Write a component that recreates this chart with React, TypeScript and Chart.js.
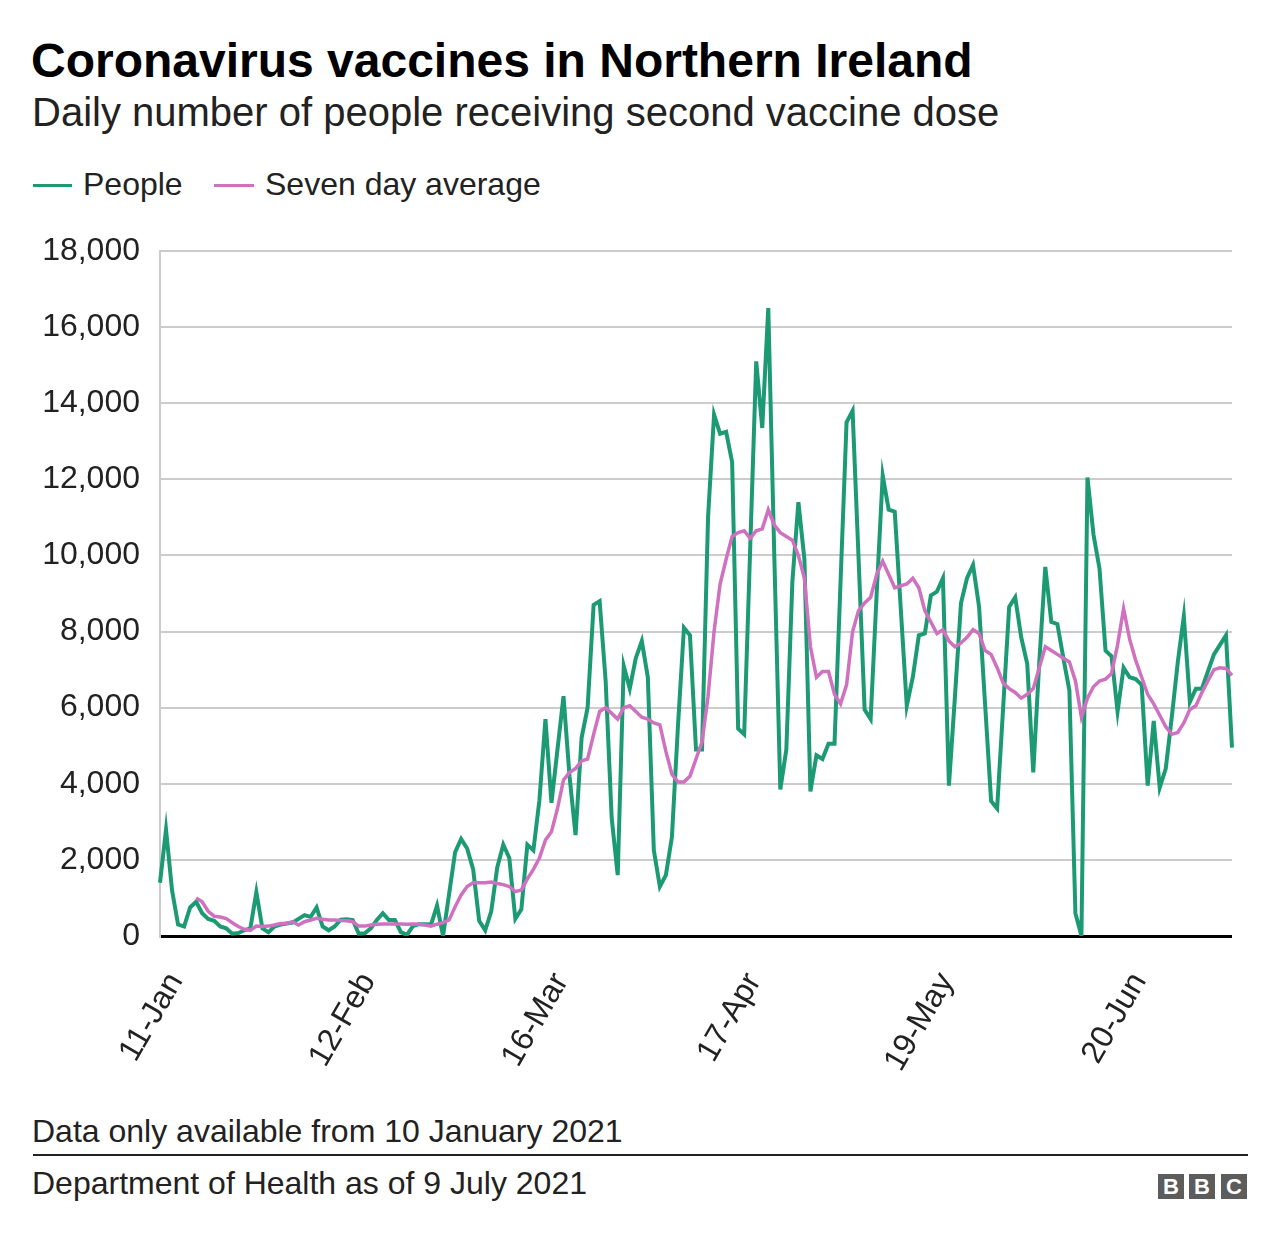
import React, { useEffect, useRef } from 'react';
import { Chart, registerables } from 'chart.js';

Chart.register(...registerables);

const FONT = '"Liberation Sans", Arial, Helvetica, sans-serif';
const GREEN = '#1b9a73';
const PINK = '#cf70c1';
const TEXT = '#222222';

// Daily categories: 10 Jan 2021 ... 7 Jul 2021
const START_DATE = { year: 2021, month: 0, day: 10 };
const DAY_COUNT = 179;
const MONTHS = ['Jan', 'Feb', 'Mar', 'Apr', 'May', 'Jun', 'Jul', 'Aug', 'Sep', 'Oct', 'Nov', 'Dec'];
const DATES: string[] = [];
for (let i = 0; i < DAY_COUNT; i++) {
  const d = new Date(Date.UTC(START_DATE.year, START_DATE.month, START_DATE.day + i));
  DATES.push(`${d.getUTCDate()}-${MONTHS[d.getUTCMonth()]}`);
}

const X_TICK_LABELS = ['11-Jan', '12-Feb', '16-Mar', '17-Apr', '19-May', '20-Jun'];
const Y_TICKS = [0, 2000, 4000, 6000, 8000, 10000, 12000, 14000, 16000, 18000];

// Daily number of people receiving second dose
const PEOPLE = [
  1400, 2800, 1200, 300, 250, 750, 900, 600, 450, 400,
  250, 200, 60, 80, 150, 200, 1150, 200, 100, 250,
  300, 330, 350, 450, 550, 500, 750, 250, 150, 250,
  430, 440, 420, 60, 70, 200, 420, 600, 420, 420,
  100, 30, 260, 310, 310, 300, 800, 0, 1100, 2200,
  2550, 2300, 1750, 400, 150, 650, 1800, 2400, 2050, 450,
  700, 2400, 2250, 3570, 5700, 3500, 4900, 6300, 4200, 2650,
  5200, 6000, 8700, 8800, 6700, 3100, 1600, 7100, 6500, 7300,
  7750, 6800, 2250, 1300, 1600, 2600, 5500, 8100, 7900, 4900,
  4900, 11000, 13700, 13200, 13250, 12450, 5450, 5300, 10200, 15100,
  13350, 16500, 10000, 3850, 4900, 9300, 11400, 9900, 3800, 4750,
  4650, 5050, 5050, 9300, 13500, 13800, 9900, 5950, 5700, 9000,
  12100, 11200, 11150, 8600, 6050, 6800, 7900, 7950, 8950, 9050,
  9400, 3950, 6300, 8750, 9400, 9750, 8650, 6100, 3550, 3350,
  6000, 8650, 8900, 7850, 7150, 4300, 7200, 9700, 8250, 8200,
  7300, 6450, 600, 0, 12050, 10550, 9650, 7500, 7350, 5900,
  7050, 6800, 6750, 6600, 3950, 5650, 3900, 4400, 5750, 7200,
  8400, 6150, 6500, 6500, 6950, 7400, 7650, 7900, 4950,
];

// Seven day average (starts on the 7th day)
const AVERAGE = [
  null, null, null, null, null, null, 1000, 900, 650, 520,
  500, 460, 350, 250, 175, 150, 260, 250, 260, 290,
  330, 330, 375, 290, 375, 420, 465, 440, 420, 420,
  410, 400, 375, 260, 260, 290, 310, 315, 315, 315,
  315, 310, 315, 310, 290, 260, 310, 350, 420, 770,
  1080, 1300, 1400, 1400, 1400, 1420, 1380, 1350, 1300, 1165,
  1210, 1500, 1750, 2050, 2520, 2740, 3350, 4100, 4300, 4400,
  4600, 4650, 5300, 5900, 6000, 5850, 5700, 6000, 6050, 5900,
  5750, 5700, 5600, 5550, 4850, 4250, 4050, 4050, 4200, 4650,
  5100, 6300, 8000, 9250, 9900, 10500, 10600, 10650, 10450, 10650,
  10700, 11200, 10800, 10600, 10500, 10400, 10000, 9400, 7600, 6800,
  6950, 6950, 6350, 6100, 6600, 8000, 8550, 8750, 8900, 9500,
  9850, 9500, 9150, 9200, 9250, 9400, 9150, 8550, 8250, 7950,
  8050, 7750, 7600, 7700, 7850, 8050, 7950, 7500, 7400, 7050,
  6650, 6500, 6400, 6250, 6350, 6500, 7050, 7600, 7500, 7400,
  7300, 7200, 6700, 5750, 6250, 6550, 6700, 6750, 6900, 7650,
  8600, 7800, 7250, 6800, 6350, 6100, 5800, 5500, 5300, 5350,
  5600, 5950, 6050, 6400, 6700, 7000, 7050, 7030, 6850,
];

// Canvas placement so the plot area spans x 160..1232, y 251..936
const Y_LABEL_LH = 40; // y tick label line height
const Y_TICK_PAD = 20;
const CANVAS_TOP = 251 - (Y_LABEL_LH / 2 + Y_TICK_PAD);
const CANVAS_H = 870;
const CANVAS_W = 1280;
const X_LABEL_LH = 52;
const X_TICK_PAD = 27;
// rotated date labels sit slightly to the right of their day (in days)
const LABEL_SHIFT = 1.6;
const X_TICK_INDEX = X_TICK_LABELS.map((l) => DATES.indexOf(l));

export default function App() {
  const ref = useRef<HTMLCanvasElement>(null);

  useEffect(() => {
    if (!ref.current) return;
    const chart = new Chart(ref.current, {
      type: 'line',
      data: {
        labels: DATES,
        datasets: [
          {
            label: 'People',
            data: PEOPLE,
            borderColor: GREEN,
            backgroundColor: GREEN,
            borderWidth: 4,
            pointRadius: 0,
            tension: 0,
            order: 1,
          },
          {
            label: 'Seven day average',
            data: AVERAGE as any,
            borderColor: PINK,
            backgroundColor: PINK,
            borderWidth: 3.5,
            pointRadius: 0,
            tension: 0,
            order: 0,
          },
        ],
      },
      options: {
        animation: false,
        responsive: false,
        maintainAspectRatio: false,
        layout: { padding: { top: 0, right: 48, left: 0, bottom: 0 } },
        plugins: {
          legend: { display: false },
          tooltip: { enabled: false },
        },
        scales: {
          x: {
            type: 'category',
            offset: false,
            display: false,
          },
          xl: {
            type: 'linear',
            position: 'bottom',
            min: -LABEL_SHIFT,
            max: DAY_COUNT - 1 - LABEL_SHIFT,
            grid: { display: false, drawTicks: false },
            border: { display: false },
            afterBuildTicks: (axis: any) => {
              axis.ticks = X_TICK_INDEX.map((v) => ({ value: v }));
            },
            ticks: {
              autoSkip: false,
              minRotation: 60,
              maxRotation: 60,
              padding: X_TICK_PAD,
              color: TEXT,
              font: { family: FONT, size: 32, lineHeight: X_LABEL_LH / 32 },
              callback: (value: any) => DATES[Math.round(Number(value))] ?? '',
            },
            afterFit: (s: any) => {
              s.height = CANVAS_H - (936 - CANVAS_TOP);
            },
          },
          y: {
            min: Y_TICKS[0],
            max: Y_TICKS[Y_TICKS.length - 1],
            ticks: {
              stepSize: 2000,
              padding: Y_TICK_PAD,
              color: TEXT,
              font: { family: FONT, size: 32, lineHeight: Y_LABEL_LH / 32 },
              callback: (v: any) => Number(v).toLocaleString('en-US'),
            },
            grid: {
              drawTicks: false,
              color: (ctx: any) => (ctx.tick && ctx.tick.value === 0 ? '#000000' : '#cccccc'),
              lineWidth: (ctx: any) => (ctx.tick && ctx.tick.value === 0 ? 3 : 2),
            },
            border: { display: true, color: '#cccccc', width: 2 },
            afterFit: (s: any) => {
              s.width = 160;
            },
          },
        },
      } as any,
    });
    return () => chart.destroy();
  }, []);

  const textBase: React.CSSProperties = {
    position: 'absolute',
    fontFamily: FONT,
    color: TEXT,
    whiteSpace: 'nowrap',
    margin: 0,
  };

  const box: React.CSSProperties = {
    position: 'absolute',
    top: 0,
    width: 26,
    height: 25,
    background: '#5c5c5c',
    color: '#ffffff',
    fontFamily: FONT,
    fontWeight: 700,
    fontSize: 22,
    lineHeight: '25px',
    textAlign: 'center',
  };

  return (
    <div
      style={{
        position: 'absolute',
        left: 0,
        top: 0,
        width: 1280,
        height: 1242,
        background: '#ffffff',
        overflow: 'hidden',
      }}
    >
      <div style={{ ...textBase, left: 31, top: 37, fontSize: 48, lineHeight: '48px', fontWeight: 700, color: '#000' }}>
        Coronavirus vaccines in Northern Ireland
      </div>
      <div style={{ ...textBase, left: 32, top: 92, fontSize: 40, lineHeight: '40px' }}>
        Daily number of people receiving second vaccine dose
      </div>

      <div style={{ position: 'absolute', left: 33, top: 184, width: 39, height: 3, background: GREEN }} />
      <div style={{ ...textBase, left: 83, top: 168, fontSize: 32, lineHeight: '32px' }}>People</div>
      <div style={{ position: 'absolute', left: 214, top: 184, width: 40, height: 3, background: PINK }} />
      <div style={{ ...textBase, left: 265, top: 168, fontSize: 32, lineHeight: '32px' }}>Seven day average</div>

      <canvas
        ref={ref}
        width={CANVAS_W}
        height={CANVAS_H}
        style={{ position: 'absolute', left: 0, top: CANVAS_TOP, width: CANVAS_W, height: CANVAS_H, display: 'block' }}
      />

      <div style={{ ...textBase, left: 32, top: 1115, fontSize: 32, lineHeight: '32px' }}>
        Data only available from 10 January 2021
      </div>
      <div style={{ position: 'absolute', left: 33, top: 1154, width: 1215, height: 2, background: '#222' }} />
      <div style={{ ...textBase, left: 32, top: 1167, fontSize: 32, lineHeight: '32px' }}>
        Department of Health as of 9 July 2021
      </div>

      <div style={{ position: 'absolute', left: 1158, top: 1174, width: 90, height: 25 }}>
        <div style={{ ...box, left: 0 }}>B</div>
        <div style={{ ...box, left: 31 }}>B</div>
        <div style={{ ...box, left: 63 }}>C</div>
      </div>
    </div>
  );
}
